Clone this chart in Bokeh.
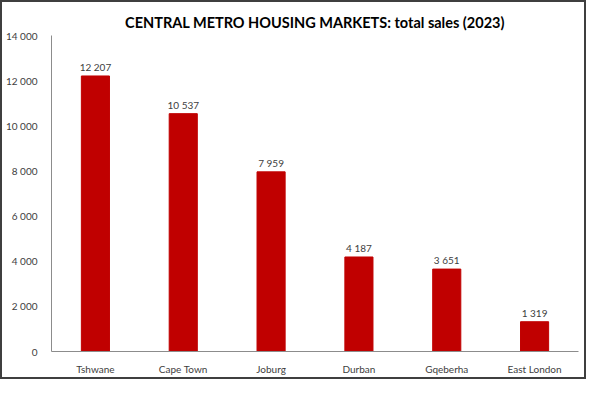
from bokeh.plotting import figure
from bokeh.layouts import column
from bokeh.models import ColumnDataSource, FixedTicker, LabelSet
from bokeh.core.properties import value
from bokeh.embed import file_html
from bokeh.resources import INLINE

categories = ["Tshwane", "Cape Town", "Joburg", "Durban", "Gqeberha", "East London"]
sales = [12207, 10537, 7959, 4187, 3651, 1319]
y_ticks = [0, 2000, 4000, 6000, 8000, 10000, 12000, 14000]
y_tick_labels = ["0", "2 000", "4 000", "6 000", "8 000", "10 000", "12 000", "14 000"]
value_labels = [f"{v:,}".replace(",", " ") for v in sales]

source = ColumnDataSource(dict(cat=categories, val=sales, lab=value_labels))

FONT = "Lato"
TXT = "#404040"
W, H = 582, 375

p = figure(x_range=categories, y_range=(0, 14000), width=W, height=H,
           output_backend="svg", toolbar_location=None,
           min_border_left=35, min_border_right=6, min_border_top=33, min_border_bottom=19)

p.vbar(x="cat", top="val", width=0.32, source=source, fill_color="#C00000", line_color="#C00000")

p.add_layout(LabelSet(x="cat", y="val", text="lab", source=source, text_align="center",
                      text_baseline="bottom", y_offset=3, text_font=value(FONT),
                      text_font_size="10px", text_color=TXT))

p.title.text = "CENTRAL METRO HOUSING MARKETS: total sales (2023)"
p.title.text_font = FONT
p.title.text_font_size = "14.5px"
p.title.text_font_style = "bold"
p.title.text_color = "#000000"
p.title.align = "center"

p.xgrid.visible = False
p.ygrid.visible = False
p.outline_line_color = None

p.yaxis.ticker = FixedTicker(ticks=y_ticks)
p.yaxis.major_label_overrides = {t: l for t, l in zip(y_ticks, y_tick_labels)}
for ax in (p.xaxis, p.yaxis):
    ax.major_tick_line_color = None
    ax.minor_tick_line_color = None
    ax.axis_line_color = "#8c8c8c"
    ax.major_label_text_font = FONT
    ax.major_label_text_font_size = "10px"
    ax.major_label_text_color = TXT
p.xaxis.major_label_standoff = 5
p.yaxis.major_label_standoff = 8

layout = column(p, styles={"border": "2px solid #3f3f3f"})

open("out.html", "w").write(file_html(layout, INLINE))
